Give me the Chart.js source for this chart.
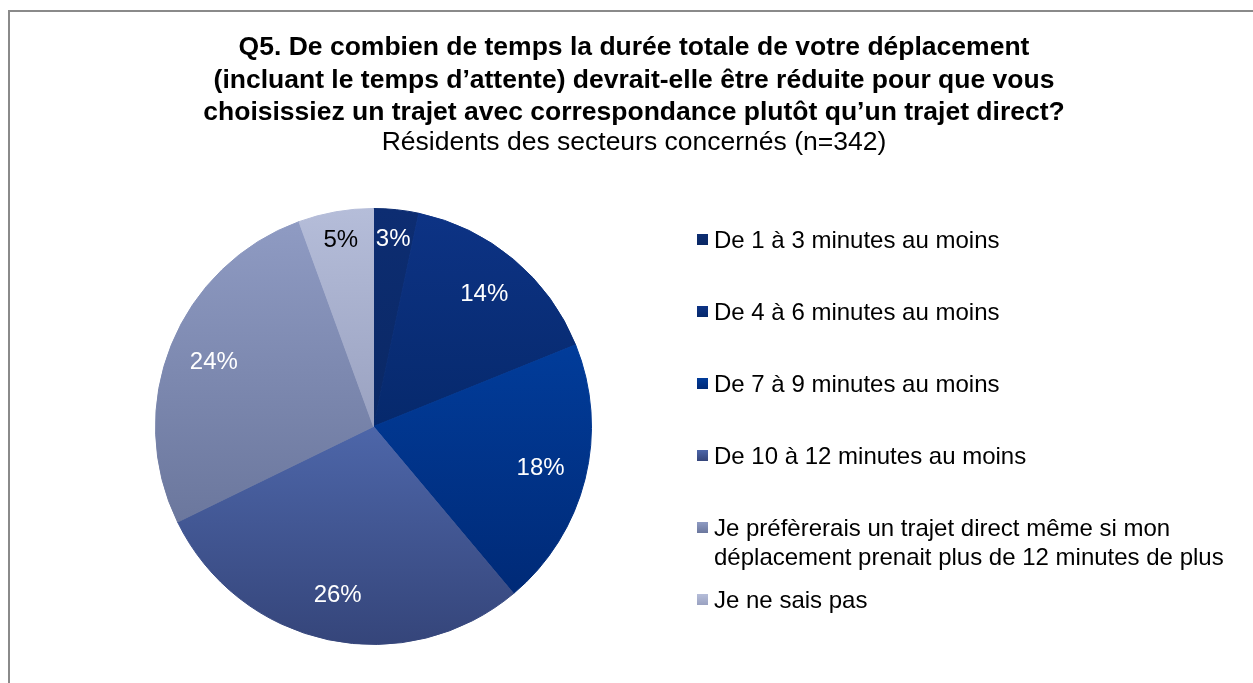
<!DOCTYPE html>
<html lang="fr">
<head>
<meta charset="utf-8">
<title>Q5 - Durée de déplacement</title>
<script src="https://cdn.jsdelivr.net/npm/chart.js@4.4.0/dist/chart.umd.min.js"></script>
<style>
	html, body {
		margin: 0;
		padding: 0;
		width: 1253px;
		height: 683px;
		overflow: hidden;
		background: #fff;
		font-family: "Liberation Sans", Arial, sans-serif;
		color: #000;
	}
	#frame {
		position: absolute;
		left: 8px;
		top: 10px;
		width: 1400px;
		height: 900px;
		border: 2px solid #8a8a8a;
	}
	#pie {
		position: absolute;
		left: 0;
		top: 0;
	}
	#heading {
		position: absolute;
		left: 9px;
		top: 30px;
		width: 1250px;
		text-align: center;
		font-size: 26.5px;
		line-height: 32.5px;
	}
	#heading .q {
		font-weight: bold;
	}
	#heading .sub {
		line-height: 27px;
	}
	#legend {
		position: absolute;
		left: 697px;
		top: 224.5px;
		margin: 0;
		padding: 0;
		list-style: none;
		font-size: 24px;
		line-height: 29px;
	}
	#legend li {
		position: relative;
		height: 72px;
		padding-left: 17px;
		white-space: nowrap;
	}
	#legend .box {
		position: absolute;
		left: 0;
		top: 9px;
		width: 11px;
		height: 11px;
	}
</style>
</head>
<body>
<div id="frame"></div>
<canvas id="pie" width="1253" height="683"></canvas>
<div id="heading"></div>
<ul id="legend"></ul>

<script>
	// question text
	const titleLines = [
		"Q5. De combien de temps la durée totale de votre déplacement",
		"(incluant le temps d’attente) devrait-elle être réduite pour que vous",
		"choisissiez un trajet avec correspondance plutôt qu’un trajet direct?"
	];
	const subtitle = "Résidents des secteurs concernés (n=342)";

	// answers and shares (%)
	const categories = [
		"De 1 à 3 minutes au moins",
		"De 4 à 6 minutes au moins",
		"De 7 à 9 minutes au moins",
		"De 10 à 12 minutes au moins",
		["Je préfèrerais un trajet direct même si mon", "déplacement prenait plus de 12 minutes de plus"],
		"Je ne sais pas"
	];
	const shares = [3, 14, 18, 26, 24, 5];

	// gradient colours of each slice, top -> bottom
	const sliceTop = ["#0d2d72", "#0d3385", "#013c9a", "#4d66a9", "#8f9bc3", "#b5bdd9"];
	const sliceBottom = ["#0a2864", "#06296c", "#002a77", "#35457a", "#6b779d", "#9aa2c1"];

	// heading
	const heading = document.getElementById("heading");
	titleLines.forEach((line) => {
		let div = document.createElement("div");
		div.className = "q";
		div.textContent = line;
		heading.append(div);
	});
	let sub = document.createElement("div");
	sub.className = "sub";
	sub.textContent = subtitle;
	heading.append(sub);

	// legend
	const legend = document.getElementById("legend");
	categories.forEach((label, i) => {
		let item = document.createElement("li");
		let box = document.createElement("span");
		box.className = "box";
		box.style.background = "linear-gradient(" + sliceTop[i] + ", " + sliceBottom[i] + ")";
		item.append(box);
		[].concat(label).forEach((line) => {
			let div = document.createElement("div");
			div.textContent = line;
			item.append(div);
		});
		legend.append(item);
	});

	/**
	 * Vertical gradient spanning the bounding box of a slice.
	 */
	function sliceFill(context) {
		const chart = context.chart;
		const area = chart.chartArea;
		const i = context.dataIndex;
		if (!area || i === undefined) {
			return sliceTop[0];
		}
		const cy = (area.top + area.bottom) / 2;
		const r = Math.min(area.right - area.left, area.bottom - area.top) / 2;
		const values = context.dataset.data;
		const total = values.reduce((a, b) => a + b, 0);
		let before = 0;
		for (let k = 0; k < i; k++) {
			before += values[k];
		}
		const a1 = -Math.PI / 2 + before / total * 2 * Math.PI;
		const a2 = a1 + values[i] / total * 2 * Math.PI;
		let ys = [cy, cy + r * Math.sin(a1), cy + r * Math.sin(a2)];
		[Math.PI / 2, 3 * Math.PI / 2].forEach((a) => {
			if (a > a1 && a < a2) {
				ys.push(cy + r * Math.sin(a));
			}
		});
		const g = chart.ctx.createLinearGradient(0, Math.min(...ys), 0, Math.max(...ys));
		g.addColorStop(0, sliceTop[i]);
		g.addColorStop(1, sliceBottom[i]);
		return g;
	}

	// percentage labels inside the slices
	const sliceLabels = {
		id: "sliceLabels",
		afterDatasetsDraw(chart) {
			const ctx = chart.ctx;
			const meta = chart.getDatasetMeta(0);
			ctx.save();
			ctx.font = '24px "Liberation Sans", Arial, sans-serif';
			ctx.textAlign = "center";
			ctx.textBaseline = "middle";
			meta.data.forEach((arc, i) => {
				const { x, y, startAngle, endAngle, outerRadius } = arc.getProps(["x", "y", "startAngle", "endAngle", "outerRadius"]);
				const mid = (startAngle + endAngle) / 2;
				const k = (endAngle - startAngle) < 0.5 ? 0.865 : 0.79;
				ctx.fillStyle = i === shares.length - 1 ? "#000" : "#fff";
				ctx.fillText(shares[i] + "%", x + Math.cos(mid) * outerRadius * k, y + Math.sin(mid) * outerRadius * k);
			});
			ctx.restore();
		}
	};

	new Chart(document.getElementById("pie"), {
		type: "pie",
		data: {
			labels: categories,
			datasets: [{
				data: shares,
				backgroundColor: sliceFill,
				borderColor: sliceFill,
				borderWidth: 1
			}]
		},
		options: {
			responsive: false,
			animation: false,
			layout: {
				padding: { left: 154, right: 660, top: 208, bottom: 38 }
			},
			plugins: {
				legend: { display: false },
				tooltip: { enabled: false }
			}
		},
		plugins: [sliceLabels]
	});
</script>
</body>
</html>
